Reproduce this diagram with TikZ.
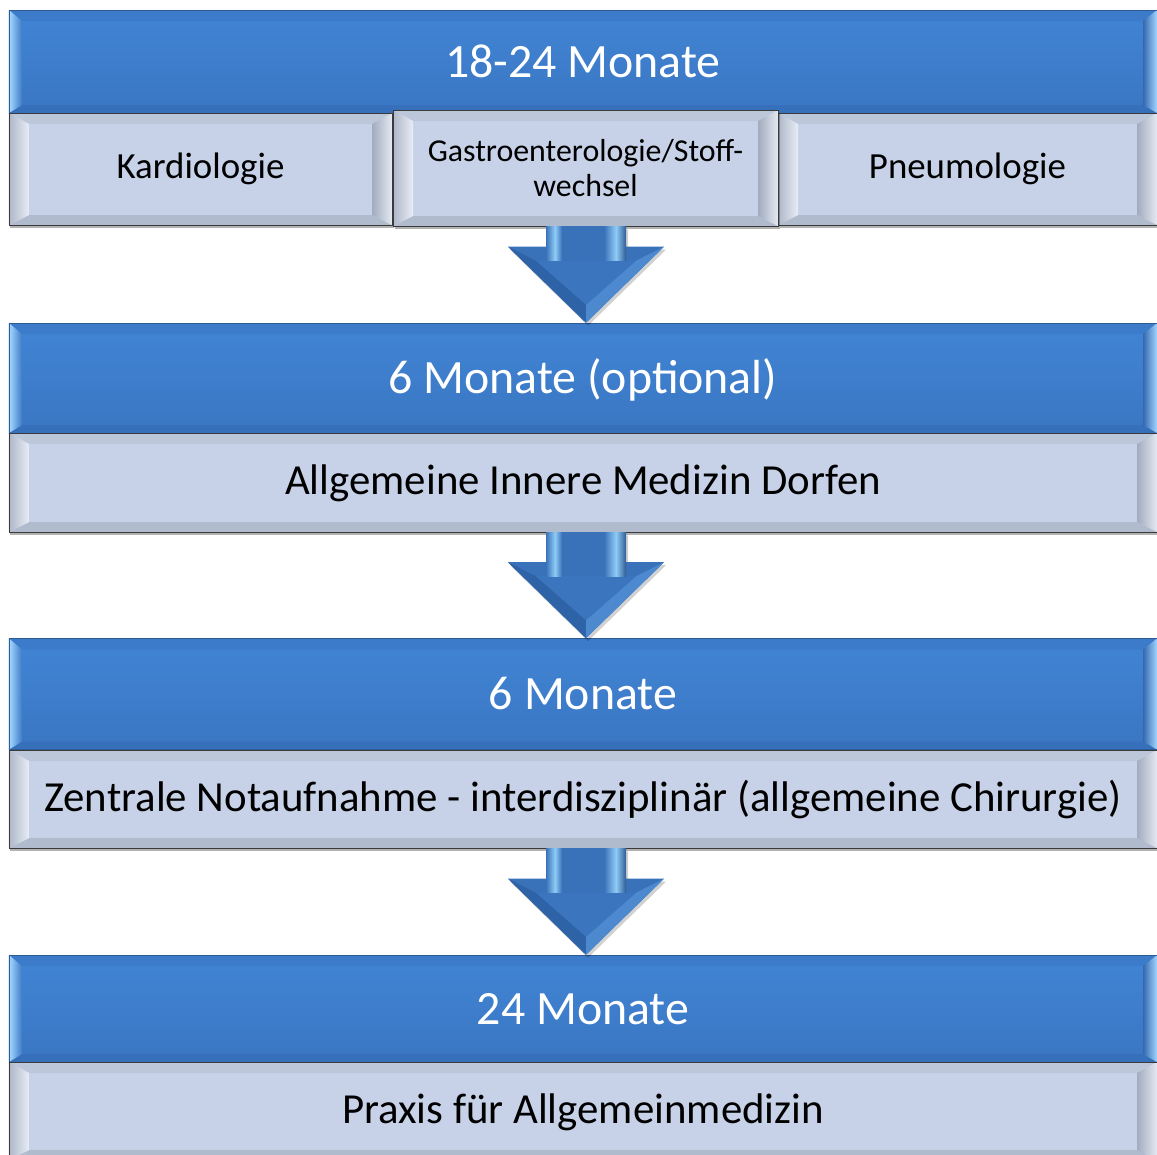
\documentclass[tikz,border=0pt]{standalone}
\usepackage{fontspec}
\setmainfont{Carlito}
\usetikzlibrary{calc,shadows}
\definecolor{hbA}{HTML}{4185D5}
\definecolor{hbB}{HTML}{3A76C2}
\definecolor{hbTop}{HTML}{3C7ACA}
\definecolor{hbBot}{HTML}{3670BA}
\definecolor{hbL1}{HTML}{A6D8FF}
\definecolor{hbL2}{HTML}{3E7CC8}
\definecolor{hbR1}{HTML}{3468B0}
\definecolor{hbR2}{HTML}{A2D6FF}
\definecolor{hline}{HTML}{2E5A92}
\definecolor{sbFill}{HTML}{C7D2E8}
\definecolor{sbTop}{HTML}{BDC7DA}
\definecolor{sbBot}{HTML}{B1BBCE}
\definecolor{sbL1}{HTML}{AEB7C8}
\definecolor{sbL2}{HTML}{E8EDF5}
\definecolor{sbR1}{HTML}{A2ACBE}
\definecolor{sbR2}{HTML}{E4E9F2}
\definecolor{sline}{HTML}{3A3A3A}
\definecolor{arB}{HTML}{3A72B9}
\definecolor{arDark}{HTML}{2F63A7}
\definecolor{arLight}{HTML}{4C89CF}
\definecolor{arIn}{HTML}{3B75BE}
\definecolor{arHi}{HTML}{8FCBF7}
\newcommand\bvcorners{%
  \coordinate (bvA) at (path picture bounding box.north west);
  \coordinate (bvB) at (path picture bounding box.north east);
  \coordinate (bvC) at (path picture bounding box.south east);
  \coordinate (bvD) at (path picture bounding box.south west);}
\newcommand\bevelH{%
  \bvcorners
  \fill[hbTop] (bvA) -- (bvB) -- ($(bvB)+(-14bp,-11bp)$) -- ($(bvA)+(13bp,-11bp)$) -- cycle;
  \fill[hbBot] (bvD) -- (bvC) -- ($(bvC)+(-14bp,8bp)$) -- ($(bvD)+(13bp,8bp)$) -- cycle;
  \shade[left color=hbL1,right color=hbL2] (bvA) -- (bvD) -- ($(bvD)+(13bp,8bp)$) -- ($(bvA)+(13bp,-11bp)$) -- cycle;
  \shade[left color=hbR1,right color=hbR2] (bvB) -- (bvC) -- ($(bvC)+(-14bp,8bp)$) -- ($(bvB)+(-14bp,-11bp)$) -- cycle;}
\newcommand\bevelS{%
  \bvcorners
  \fill[sbTop] (bvA) -- (bvB) -- ($(bvB)+(-20bp,-11bp)$) -- ($(bvA)+(20bp,-11bp)$) -- cycle;
  \fill[sbBot] (bvD) -- (bvC) -- ($(bvC)+(-20bp,10bp)$) -- ($(bvD)+(20bp,10bp)$) -- cycle;
  \shade[left color=sbL1,right color=sbL2] (bvA) -- (bvD) -- ($(bvD)+(20bp,10bp)$) -- ($(bvA)+(20bp,-11bp)$) -- cycle;
  \shade[left color=sbR1,right color=sbR2] (bvB) -- (bvC) -- ($(bvC)+(-20bp,10bp)$) -- ($(bvB)+(-20bp,-11bp)$) -- cycle;}
% #1 from node, #2 to node, #3 x offset
\newcommand\blockarrow[3]{%
  \fill[black,opacity=0.18] let \p1=($(#1.south)+(#3,0bp)$), \p2=(#2.north) in
    (\x1-38bp,\y1-3bp) -- (\x1-38bp,\y2+73bp) -- (\x1-76bp,\y2+73bp) -- (\x1+2bp,\y2-3bp)
    -- (\x1+80bp,\y2+73bp) -- (\x1+42bp,\y2+73bp) -- (\x1+42bp,\y1-3bp) -- cycle;
  \fill[arB] let \p1=($(#1.south)+(#3,0bp)$), \p2=(#2.north) in
    (\x1-78bp,\y2+76bp) -- (\x1,\y2) -- (\x1+78bp,\y2+76bp) -- cycle;
  \fill[arDark] let \p1=($(#1.south)+(#3,0bp)$), \p2=(#2.north) in
    (\x1-78bp,\y2+76bp) -- (\x1,\y2) -- (\x1,\y2+18bp) -- (\x1-50bp,\y2+62bp) -- cycle;
  \fill[arLight] let \p1=($(#1.south)+(#3,0bp)$), \p2=(#2.north) in
    (\x1+78bp,\y2+76bp) -- (\x1,\y2) -- (\x1,\y2+18bp) -- (\x1+50bp,\y2+62bp) -- cycle;
  \fill[arIn] let \p1=($(#1.south)+(#3,0bp)$), \p2=(#2.north) in
    (\x1-50bp,\y2+62bp) -- (\x1+50bp,\y2+62bp) -- (\x1,\y2+18bp) -- cycle;
  \fill[arB] let \p1=($(#1.south)+(#3,0bp)$), \p2=(#2.north) in
    (\x1-40bp,\y1) rectangle (\x1+40bp,\y2+62bp);
  \shade[left color=arB,right color=arHi] let \p1=($(#1.south)+(#3,0bp)$), \p2=(#2.north) in
    (\x1-40bp,\y1) rectangle (\x1-31bp,\y2+62bp);
  \shade[left color=arHi,right color=arB] let \p1=($(#1.south)+(#3,0bp)$), \p2=(#2.north) in
    (\x1-31bp,\y1) rectangle (\x1-24bp,\y2+62bp);
  \shade[left color=arB,right color=arHi] let \p1=($(#1.south)+(#3,0bp)$), \p2=(#2.north) in
    (\x1+18bp,\y1) rectangle (\x1+30bp,\y2+62bp);
  \shade[left color=arHi,right color=arB!80!black] let \p1=($(#1.south)+(#3,0bp)$), \p2=(#2.north) in
    (\x1+30bp,\y1) rectangle (\x1+40bp,\y2+62bp);
}
\tikzset{
  hdr/.style={draw=hline, line width=0.6bp, top color=hbA, bottom color=hbB,
    minimum width=1148bp, inner sep=0pt, text=white,
    font=\fontsize{48}{56}\selectfont, text height=31bp, text depth=0bp,
    path picture={\bevelH}},
  sub/.style={draw=sline, line width=0.9bp, fill=sbFill, inner sep=0pt, text=black,
    drop shadow={shadow xshift=1.5bp, shadow yshift=-2.5bp, opacity=0.3, fill=black},
    font=\fontsize{43}{50}\selectfont, text height=27.7bp, text depth=3bp,
    path picture={\bevelS}},
  subone/.style={sub, font=\fontsize{37}{44}\selectfont, text height=23.8bp, text depth=5bp},
  subsmall/.style={sub, font=\fontsize{32}{35}\selectfont, align=center,
    text height=, text depth=},
}
\begin{document}
\begin{tikzpicture}[x=1bp,y=-1bp]
\useasboundingbox (0,0) rectangle (1157,1155);
\fill[white] (0,0) rectangle (1157,1155);

% headers
\node[hdr, minimum height=103bp] (h1) at (583,61.5) {18-24 Monate};
\node[hdr, minimum height=110bp] (h2) at (583,378) {6 Monate (optional)};
\node[hdr, minimum height=111bp] (h3) at (583,694) {6 Monate};
\node[hdr, minimum height=107bp] (h4) at (583,1008.5) {24 Monate};

% sub boxes
\node[subone, minimum width=383bp, minimum height=112bp] (s1l) at (200.5,169) {Kardiologie};
\node[subone, minimum width=379bp, minimum height=112bp] (s1r) at (967.5,169) {Pneumologie};
\node[subsmall, minimum width=385bp, minimum height=116bp] (s1m) at (585.5,168) {Gastroenterologie/Stoff-\\wechsel};
\node[sub, minimum width=1148bp, minimum height=99bp] (s2) at (583,482.5) {Allgemeine Innere Medizin Dorfen};
\node[sub, minimum width=1148bp, minimum height=98bp] (s3) at (583,799) {Zentrale Notaufnahme - interdisziplinär (allgemeine Chirurgie)};
\node[sub, minimum width=1148bp, minimum height=98bp] (s4) at (583,1111) {Praxis für Allgemeinmedizin};

% arrows
\blockarrow{s1m}{h2}{0.5bp}
\blockarrow{s2}{h3}{3bp}
\blockarrow{s3}{h4}{3bp}
\end{tikzpicture}
\end{document}
